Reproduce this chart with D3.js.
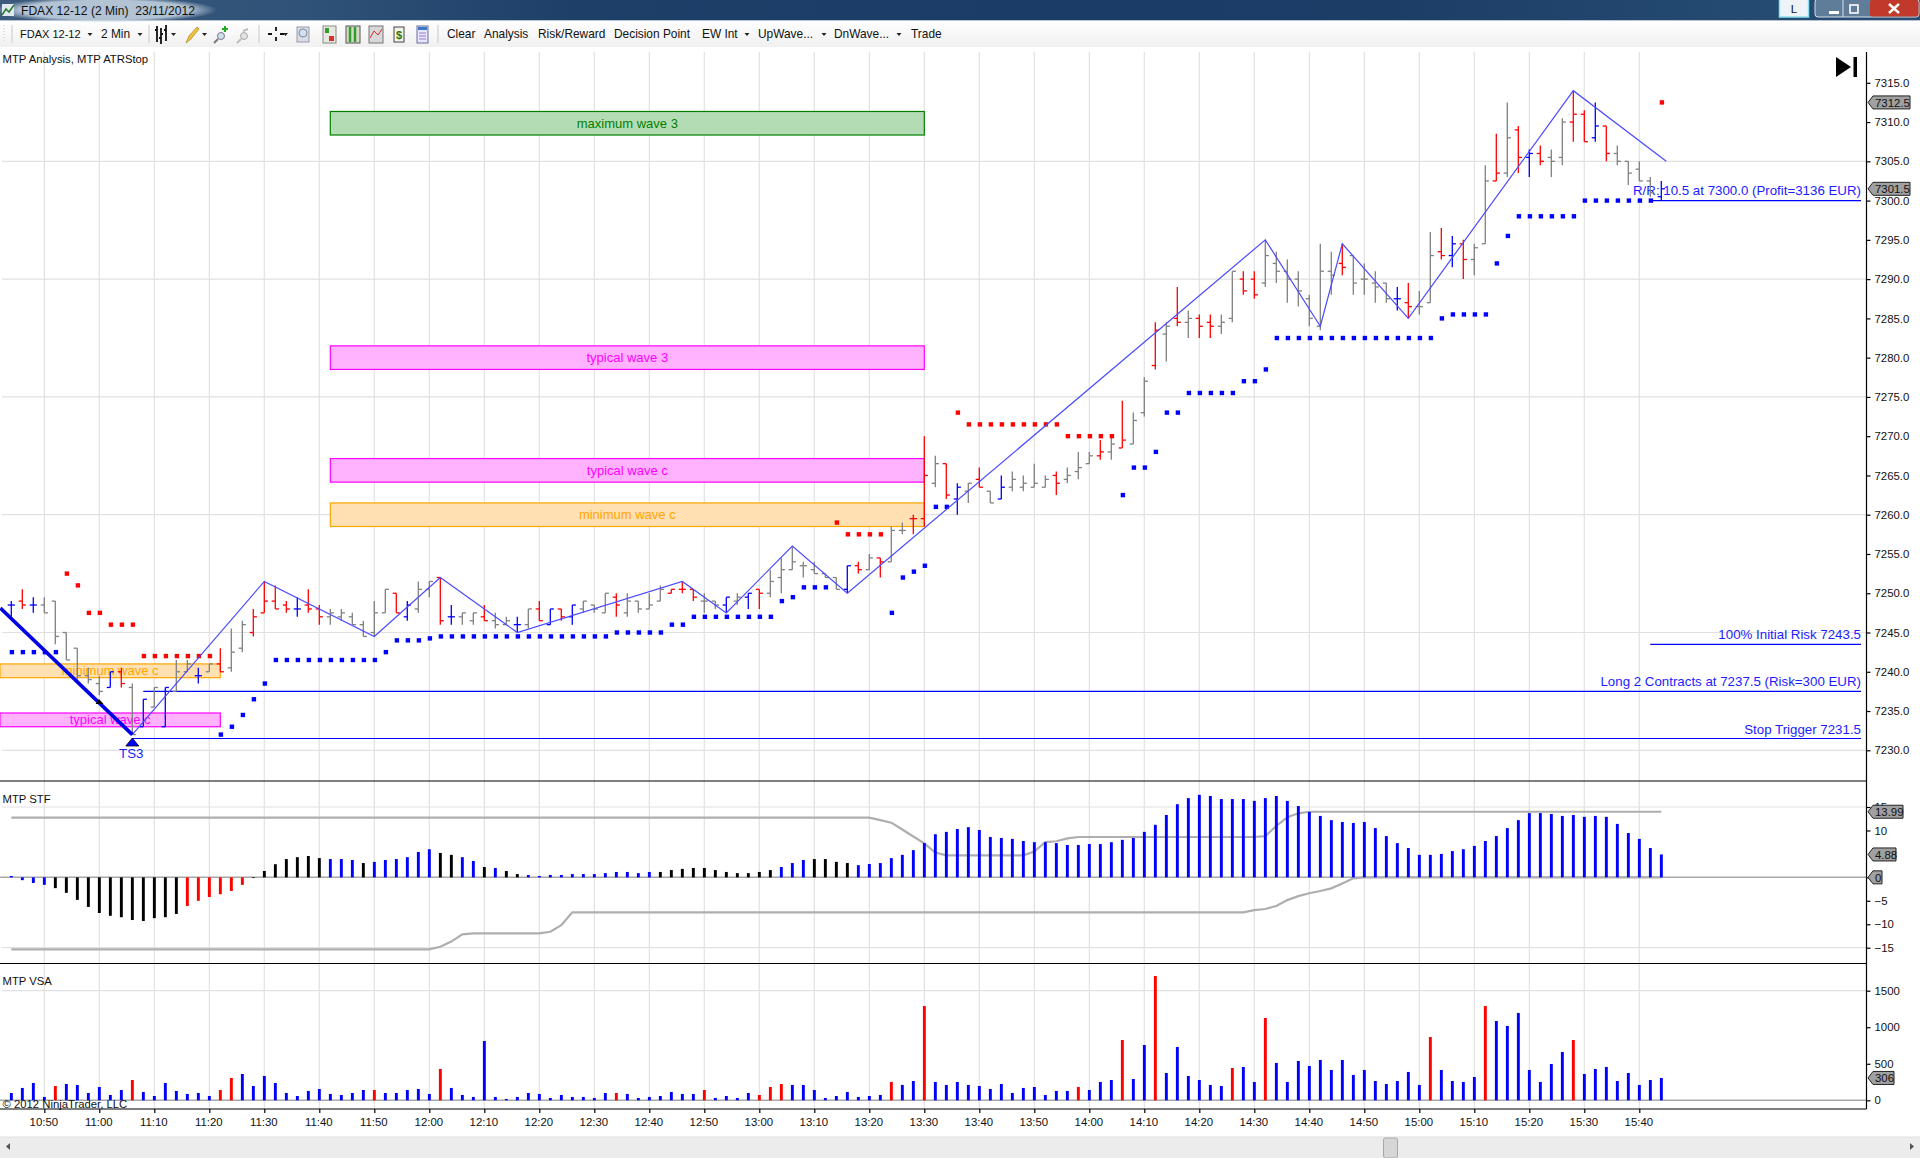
<!DOCTYPE html>
<html lang="en">

<head>
  <meta charset="utf-8">
  <title>FDAX 12-12 (2 Min)</title>
  <style>
    html,
    body {
      margin: 0;
      padding: 0;
      background: #fff;
      overflow: hidden;
    }

    svg {
      display: block;
      font-family: 'Liberation Sans', Arial, sans-serif;
    }

    .axis path {
      display: none;
    }

    .axis line {
      stroke: #000;
      stroke-width: 1.2;
    }

    .axis text {
      fill: #111;
      font-size: 11.4px;
      font-family: 'Liberation Sans', Arial, sans-serif;
    }
  </style>
  <script src="https://d3js.org/d3.v7.min.js" charset="utf-8"></script>
</head>

<body>
  <svg id="chart" width="1920" height="1158"></svg>

  <script type="text/javascript">
    // time axis
    var timeLabels = ["10:50", "11:00", "11:10", "11:20", "11:30", "11:40", "11:50", "12:00", "12:10", "12:20",
      "12:30", "12:40", "12:50", "13:00", "13:10", "13:20", "13:30", "13:40", "13:50", "14:00",
      "14:10", "14:20", "14:30", "14:40", "14:50", "15:00", "15:10", "15:20", "15:30", "15:40"];
    var firstBarTime = "10:44";
    var barMinutes = 2;

    var priceTicks = [7230, 7235, 7240, 7245, 7250, 7255, 7260, 7265, 7270, 7275, 7280, 7285, 7290, 7295, 7300, 7305, 7310, 7315];
    var priceGrid = [7230, 7245, 7260, 7275, 7290, 7305];
    var stfTicks = [-15, -10, -5, 0, 10, 15];
    var stfGrid = [-15, 15];
    var vsaTicks = [0, 500, 1000, 1500];
    var vsaGrid = [1500];

    // price bars, one column per 2 minute bar
    var opens = [
      7248.5, 7249, 7248.5, 7248.5, 7249, 7245, 7243, 7239.5, 7238.5, 7238,
      7240, 7238, 7233, 7235.5, 7233, 7237.5, 7240, 7239.5, 7240, 7241,
      7240.5, 7243, 7245, 7247.5, 7249, 7248.5, 7248, 7248.5, 7248, 7247,
      7247, 7247, 7246, 7245, 7247.5, 7250, 7247, 7248, 7250.5, 7252,
      7247, 7247, 7246.5, 7247, 7246.5, 7246, 7246, 7246, 7248, 7246,
      7248, 7247, 7248, 7248.5, 7247.5, 7249.5, 7247.5, 7249, 7248, 7249,
      7250, 7250.5, 7250.5, 7249, 7249, 7248.5, 7249, 7249.5, 7250.5, 7250,
      7252, 7253, 7253.5, 7253, 7252.5, 7252, 7250.5, 7253.5, 7253, 7254.5,
      7254, 7258, 7259.5, 7259.5, 7264, 7266.5, 7262, 7263, 7264.5, 7263,
      7262, 7263.5, 7263.5, 7263.5, 7263.5, 7265, 7264.5, 7265.5, 7266.5, 7267.5,
      7268, 7268.5, 7269, 7273, 7279, 7283, 7285, 7284.5, 7285, 7284.5,
      7284, 7285, 7290, 7290, 7289.5, 7292, 7291, 7290, 7287.5, 7284,
      7291, 7292, 7293, 7290, 7289.5, 7289.5, 7287.5, 7287, 7286.5, 7287,
      7293.5, 7293, 7294.5, 7292.5, 7294.5, 7302.5, 7303.5, 7309, 7305.5, 7306,
      7305.5, 7305.5, 7310, 7311, 7308, 7309.5, 7306, 7305, 7304, 7302.5,
      7300.5];
    var highs = [
      7249, 7250.5, 7249.5, 7249.5, 7249, 7245, 7243, 7240.5, 7239.5, 7240,
      7240.5, 7238.5, 7236.5, 7238, 7238, 7241.5, 7241.5, 7240.5, 7241, 7243,
      7245.5, 7246.5, 7248, 7251.5, 7251, 7249, 7249.5, 7250.5, 7248.5, 7248,
      7248, 7247.5, 7246.5, 7249, 7250.5, 7250, 7249, 7251.5, 7251.5, 7252,
      7248.5, 7247.5, 7247.5, 7248.5, 7247.5, 7247, 7247, 7248, 7249, 7248,
      7248, 7248.5, 7249, 7248.5, 7250, 7250, 7250, 7249, 7250, 7251,
      7250.5, 7251.5, 7250.5, 7250, 7249, 7249.5, 7250, 7250, 7250.5, 7253,
      7254.5, 7256, 7254, 7254, 7252.5, 7252, 7253.5, 7254, 7255, 7254.5,
      7258.5, 7259, 7260, 7270, 7267.5, 7266.5, 7264, 7264, 7266, 7263,
      7265, 7265.5, 7265, 7266.5, 7265, 7265.5, 7266, 7268, 7268, 7269.5,
      7270, 7274.5, 7273, 7277.5, 7284.5, 7284.5, 7289, 7286, 7285.5, 7285.5,
      7285.5, 7291, 7291, 7291, 7295, 7293.5, 7292.5, 7291, 7288, 7294.5,
      7293.5, 7294.5, 7293, 7292, 7291, 7289.5, 7289, 7289.5, 7288.5, 7296,
      7296.5, 7295.5, 7295, 7294.5, 7304.5, 7308.5, 7312.5, 7309.5, 7306.5, 7307,
      7306.5, 7310.5, 7314, 7311.5, 7312.5, 7309.5, 7307, 7305, 7305, 7303,
      7302.5];
    var lows = [
      7247, 7248, 7247.5, 7247.5, 7243.5, 7241.5, 7239, 7238.5, 7237, 7238,
      7238, 7232, 7233, 7235.5, 7233, 7237.5, 7240, 7238.5, 7240, 7240,
      7240, 7242.5, 7244.5, 7247.5, 7248, 7247.5, 7247, 7247.5, 7246, 7246,
      7246.5, 7246, 7244.5, 7244.5, 7247.5, 7247.5, 7246.5, 7247.5, 7249.5, 7246,
      7246, 7246, 7246, 7246.5, 7245.5, 7246, 7245, 7245.5, 7246.5, 7246,
      7246.5, 7246, 7247.5, 7247.5, 7247.5, 7247, 7247, 7247.5, 7248, 7249,
      7250, 7250, 7249, 7247.5, 7248, 7247.5, 7248.5, 7248, 7248, 7249.5,
      7250, 7253, 7252, 7252.5, 7252, 7250.5, 7250, 7252.5, 7253, 7252,
      7254, 7257.5, 7257.5, 7258.5, 7263.5, 7262, 7260, 7261.5, 7263.5, 7261.5,
      7262, 7263, 7263, 7263.5, 7263.5, 7262.5, 7264, 7264.5, 7266.5, 7267,
      7267, 7268.5, 7269, 7272.5, 7278.5, 7279.5, 7284, 7282.5, 7282.5, 7282.5,
      7283, 7284.5, 7288, 7287.5, 7289, 7289.5, 7287, 7286.5, 7284, 7283.5,
      7288, 7290.5, 7288, 7288, 7287, 7287, 7286, 7285, 7285.5, 7287,
      7292.5, 7291.5, 7290, 7290.5, 7294.5, 7302.5, 7303, 7303.5, 7303, 7304.5,
      7303, 7304.5, 7307.5, 7307.5, 7307.5, 7305, 7304.5, 7302, 7302.5, 7300.5,
      7300];
    var closes = [
      7248.5, 7248.5, 7248.5, 7247.5, 7244.5, 7241.5, 7239.5, 7239, 7237.5, 7240,
      7238.5, 7232, 7236.5, 7238, 7238, 7240, 7241, 7239.5, 7241, 7240,
      7242.5, 7246, 7247, 7249, 7248, 7248, 7248, 7248, 7247, 7247.5,
      7247.5, 7246, 7244.5, 7247.5, 7250.5, 7247.5, 7248.5, 7250.5, 7251.5, 7246.5,
      7247, 7247.5, 7247.5, 7246.5, 7246, 7246.5, 7246, 7248, 7246.5, 7248,
      7247, 7248.5, 7249, 7248, 7250, 7248.5, 7249, 7248, 7248.5, 7250.5,
      7250.5, 7250.5, 7249.5, 7249, 7248.5, 7249.5, 7249.5, 7250, 7250, 7251.5,
      7253, 7254, 7253.5, 7252.5, 7252, 7250.5, 7253.5, 7253, 7254.5, 7254,
      7258, 7258, 7259.5, 7265, 7266.5, 7262.5, 7263.5, 7264, 7263.5, 7261.5,
      7263.5, 7264.5, 7264, 7264, 7264.5, 7264, 7265, 7266, 7267.5, 7268,
      7269, 7269.5, 7272, 7277, 7283.5, 7284, 7284.5, 7285, 7284, 7284,
      7284.5, 7291, 7288.5, 7288, 7293, 7291, 7290, 7288.5, 7285, 7291,
      7290.5, 7291.5, 7289.5, 7290, 7289, 7287.5, 7287.5, 7286.5, 7286.5, 7293,
      7293, 7294.5, 7292.5, 7294, 7302.5, 7303.5, 7308, 7305.5, 7306, 7305,
      7305, 7310, 7311, 7307.5, 7309.5, 7306, 7305, 7303.5, 7302.5, 7301,
      7301.5];
    var barColors = (
      "brbggggggb" + "rgbgbggbgr" + "ggrrrrbrrg" + "gggggrbggr" + "bggrggbgrb" +
      "rbgggrgggg" + "rrrggbgbrg" + "ggggggbrgr" + "ggrrgrbgrg" + "bggggrgggr" +
      "grggrgrgrr" + "ggrrgggggg" + "grggggbrgg" + "rbrggrgrbr" + "ggrrbrgggg" + "b").split("");

    // MTP ATRStop dots
    var stopPrices = [
      7242.5, 7242.5, 7242.5, 7242.5, 7242.5, 7252.5, 7251, 7247.5, 7247.5, 7246,
      7246, 7246, 7242, 7242, 7242, 7242, 7242, 7242, 7242, 7232,
      7233, 7234.5, 7236.5, 7238.5, 7241.5, 7241.5, 7241.5, 7241.5, 7241.5, 7241.5,
      7241.5, 7241.5, 7241.5, 7241.5, 7242.5, 7244, 7244, 7244, 7244.25, 7244.5,
      7244.5, 7244.5, 7244.5, 7244.5, 7244.5, 7244.5, 7244.5, 7244.5, 7244.5, 7244.5,
      7244.5, 7244.5, 7244.5, 7244.5, 7244.5, 7245, 7245, 7245, 7245, 7245,
      7246, 7246, 7247, 7247, 7247, 7247, 7247, 7247, 7247, 7247,
      7249, 7249.5, 7250.75, 7250.75, 7250.75, 7259, 7257.5, 7257.5, 7257.5, 7257.5,
      7247.5, 7252, 7252.75, 7253.5, 7261, 7261, 7273, 7271.5, 7271.5, 7271.5,
      7271.5, 7271.5, 7271.5, 7271.5, 7271.5, 7271.5, 7270, 7270, 7270, 7270,
      7270, 7262.5, 7266, 7266, 7268, 7273, 7273, 7275.5, 7275.5, 7275.5,
      7275.5, 7275.5, 7277, 7277, 7278.5, 7282.5, 7282.5, 7282.5, 7282.5, 7282.5,
      7282.5, 7282.5, 7282.5, 7282.5, 7282.5, 7282.5, 7282.5, 7282.5, 7282.5, 7282.5,
      7285, 7285.5, 7285.5, 7285.5, 7285.5, 7292, 7295.5, 7298, 7298, 7298,
      7298, 7298, 7298, 7300, 7300, 7300, 7300, 7300, 7300, 7300,
      7312.5];
    var stopRedBars = [5, 6, 7, 8, 9, 10, 11, 12, 13, 14, 15, 16, 17, 18, 75, 76, 77, 78, 79,
      86, 87, 88, 89, 90, 91, 92, 93, 94, 95, 96, 97, 98, 99, 100, 150];

    // wave count lines: bar number, price
    var thickWaveBars = [-1, 11];
    var thickWavePrices = [7248.1, 7232];
    var waveBars = [11, 23, 33, 39, 46, 61, 65, 71, 76, 114, 119, 121, 127, 142, 150.45];
    var wavePrices = [7232, 7251.5, 7244.5, 7252, 7245, 7251.5, 7247.5, 7256, 7250, 7295, 7284, 7294.5, 7285, 7314, 7305];

    // projection boxes
    var boxLabels = ["maximum wave 3", "typical wave 3", "typical wave c", "minimum wave c", "minimum wave c", "typical wave c"];
    var boxKinds = ["green", "magenta", "magenta", "orange", "orange", "magenta"];
    var boxFirstBars = [29, 29, 29, 29, -1.03, -1.03];
    var boxLastBars = [83, 83, 83, 83, 19, 19];
    var boxTops = [7311.35, 7281.5, 7267.15, 7261.5, 7241, 7234.75];
    var boxBottoms = [7308.35, 7278.5, 7264.15, 7258.5, 7239.25, 7233];

    // trade levels
    var levelLabels = ["R/R: 10.5 at 7300.0 (Profit=3136 EUR)", "100% Initial Risk 7243.5",
      "Long 2 Contracts at 7237.5 (Risk=300 EUR)", "Stop Trigger 7231.5"];
    var levelPrices = [7300, 7243.5, 7237.5, 7231.5];
    var levelFirstBars = [149.2, 149, 12, 11];

    // MTP STF
    var stfValues = [
      0.3, -0.6, -1.2, -1.6, -2.3, -3.3, -4.8, -6.3, -7.6, -8.2,
      -8.5, -9.1, -9.3, -8.7, -8.5, -7.8, -6.1, -5, -4.2, -3.6,
      -2.9, -1.6, -0.15, 1.35, 2.8, 3.9, 4.3, 4.55, 4.1, 3.9,
      3.9, 3.7, 3.05, 3.3, 3.7, 3.9, 4.3, 5.4, 6, 5.2,
      4.8, 4.3, 3.5, 2.2, 2, 1.35, 0.7, 0.5, 0.3, 0.5,
      0.5, 0.7, 0.7, 0.7, 0.9, 1.15, 1.15, 0.9, 1.15, 1.15,
      1.55, 1.8, 2, 2, 1.55, 1.15, 0.9, 0.9, 1.15, 1.55,
      2.2, 3.05, 3.7, 3.9, 3.9, 3.3, 3.05, 2.6, 2.85, 3.05,
      4.1, 4.8, 5.8, 7.3, 9.2, 9.7, 10.3, 10.7, 10.1, 8.6,
      8.4, 8.2, 7.75, 7.5, 7.5, 7.3, 6.9, 6.9, 7.1, 7.1,
      7.5, 8, 8.4, 9.7, 11.2, 13.3, 15.6, 16.9, 17.6, 17.35,
      16.7, 16.7, 16.7, 16.3, 16.9, 17.35, 16.3, 15.2, 13.95, 13.1,
      12.2, 11.8, 11.6, 11.8, 10.5, 8.8, 7.3, 6.25, 4.8, 4.8,
      5, 5.6, 6, 6.7, 7.75, 8.8, 10.5, 12.2, 13.7, 13.7,
      13.5, 13.1, 13.3, 12.9, 13.1, 12.9, 11.4, 9.45, 8.2, 6.25,
      4.88];
    var stfRedBars = [16, 17, 18, 19, 20, 21];
    var stfBlackBars = [4, 5, 6, 7, 8, 9, 10, 11, 12, 13, 14, 15, 22, 23, 24, 25, 26, 27, 28, 32, 39, 40, 43, 45, 46,
      59, 60, 61, 62, 63, 64, 65, 66, 67, 68, 69, 73, 74, 75, 76];
    var stfUpperBars = [0, 78, 79, 80, 81, 82, 83, 84, 85, 92, 93, 94, 95, 96, 97, 113, 114, 115, 116, 117, 118, 150];
    var stfUpperValues = [12.73, 12.73, 12.2, 11.66, 10.2, 8.7, 7.25, 5.3, 4.7, 4.7, 5.5, 7.5, 7.7, 8.3, 8.6, 8.6, 8.8, 10.95, 12.8, 13.65, 13.99, 13.99];
    var stfLowerBars = [0, 38, 39, 40, 41, 42, 48, 49, 50, 51, 112, 113, 114, 115, 116, 117, 118, 119, 120, 121, 122, 123, 150];
    var stfLowerValues = [-15.36, -15.36, -14.8, -13.7, -12.16, -11.95, -11.95, -11.6, -10.2, -7.47, -7.47, -7, -6.75, -6.1, -4.85, -4, -3.4, -2.9, -2.35, -1.3, -0.2, 0, 0];

    // MTP VSA
    var vsaValues = [
      100, 169, 237, 46, 196, 223, 210, 100, 182, 73,
      141, 278, 114, 59, 237, 128, 87, 100, 59, 141,
      306, 360, 196, 333, 237, 100, 59, 128, 155, 87,
      73, 100, 141, 141, 100, 100, 141, 155, 87, 429,
      169, 73, 46, 812, 46, 18, 46, 100, 87, 32,
      73, 46, 46, 32, 100, 100, 87, 32, 46, 59,
      114, 87, 87, 141, 32, 59, 32, 100, 73, 182,
      223, 210, 210, 141, 32, 59, 114, 46, 59, 73,
      251, 210, 264, 1290, 251, 210, 251, 210, 196, 155,
      223, 100, 169, 182, 73, 128, 128, 182, 141, 251,
      278, 825, 292, 757, 1701, 374, 730, 333, 278, 210,
      196, 442, 456, 251, 1126, 511, 251, 538, 470, 552,
      415, 552, 347, 415, 264, 223, 264, 388, 210, 866,
      415, 264, 251, 319, 1290, 1085, 1017, 1195, 415, 251,
      497, 661, 825, 360, 429, 456, 264, 374, 210, 278,
      306];
    var vsaRedBars = [4, 11, 19, 20, 33, 39, 55, 63, 68, 69, 70, 80, 83, 97, 101, 104, 111, 114, 129, 134, 142];

    // window chrome text
    var titleText = "FDAX 12-12 (2 Min)  23/11/2012";
    var menuLabels = ["FDAX 12-12", "2 Min", "Clear", "Analysis", "Risk/Reward", "Decision Point", "EW Int", "UpWave...", "DnWave...", "Trade"];
    var menuX = [20, 101, 447, 484, 538, 614, 702, 758, 834, 911];
    var menuArrowX = [90, 140, 747, 824, 899];
    var toolSeparatorX = [12, 149, 259, 438];

    var priceTagValues = ["7312.5", "7301.5"];
    var stfTagValues = ["13.99", "4.88", "0"];
    var vsaTagValues = ["306"];

    var colors = { g: "#808080", r: "#ff0000", b: "#0000ff" };
    var boxStyles = {
      green: { stroke: "#008000", fill: "#b4dcb4", text: "#008000" },
      magenta: { stroke: "#ff00ff", fill: "#ffb3ff", text: "#ff00ff" },
      orange: { stroke: "#ffa500", fill: "#ffe0b2", text: "#ffa500" }
    };

    var axisX = 1866.5;
    var svg = d3.select("#chart");

    function minutes(s) {
      var p = s.split(":");
      return +p[0] * 60 + +p[1];
    }

    var x = d3.scaleLinear()
      .domain([minutes("10:50"), minutes("15:40")])
      .range([44.3, 1639.3]);

    function barX(i) {
      return x(minutes(firstBarTime) + i * barMinutes);
    }

    var yPrice = d3.scaleLinear().domain([7230, 7315]).range([750.3, 82.8]);
    var yStf = d3.scaleLinear().domain([-15, 15]).range([947.7, 807]);
    var yVsa = d3.scaleLinear().domain([0, 1500]).range([1100.3, 990.7]);

    drawChrome();

    // grid
    var gridLayer = svg.append("g").attr("stroke", "#e1e1e1").attr("stroke-width", 1.2);
    gridLayer.selectAll(".vgrid").data(timeLabels).join("line")
      .attr("x1", function (d) { return x(minutes(d)); })
      .attr("x2", function (d) { return x(minutes(d)); })
      .attr("y1", 52).attr("y2", 1109);

    function hGrid(values, scale) {
      gridLayer.selectAll(null).data(values).join("line")
        .attr("x1", 2).attr("x2", axisX)
        .attr("y1", function (d) { return scale(d); })
        .attr("y2", function (d) { return scale(d); });
    }
    hGrid(priceGrid, yPrice);
    hGrid(stfGrid, yStf);
    hGrid(vsaGrid, yVsa);

    // projection boxes
    var boxLayer = svg.append("g");
    boxLabels.forEach(function (label, k) {
      var st = boxStyles[boxKinds[k]];
      var x0 = barX(boxFirstBars[k]), x1 = barX(boxLastBars[k]);
      boxLayer.append("rect")
        .attr("x", x0).attr("width", x1 - x0)
        .attr("y", yPrice(boxTops[k]))
        .attr("height", yPrice(boxBottoms[k]) - yPrice(boxTops[k]))
        .attr("fill", st.fill).attr("stroke", st.stroke).attr("stroke-width", 1.2);
      boxLayer.append("text")
        .attr("x", (x0 + x1) / 2)
        .attr("y", (yPrice(boxTops[k]) + yPrice(boxBottoms[k])) / 2 + 4.5)
        .attr("text-anchor", "middle")
        .attr("fill", st.text).attr("font-size", 13)
        .text(label);
    });

    // trade levels
    var levelLayer = svg.append("g");
    levelLabels.forEach(function (label, k) {
      levelLayer.append("line")
        .attr("x1", barX(levelFirstBars[k])).attr("x2", 1861)
        .attr("y1", yPrice(levelPrices[k])).attr("y2", yPrice(levelPrices[k]))
        .attr("stroke", "#0000ff").attr("stroke-width", 1.2);
      levelLayer.append("text")
        .attr("x", 1861).attr("y", yPrice(levelPrices[k]) - (k == 0 ? 6 : 5))
        .attr("text-anchor", "end")
        .attr("fill", "#1c1cff").attr("font-size", 13.3)
        .text(label);
    });

    // price bars
    var bars = svg.append("g").attr("stroke-width", 1.3);
    opens.forEach(function (o, i) {
      var cx = barX(i);
      var g = bars.append("g").attr("stroke", colors[barColors[i]]);
      g.append("line").attr("x1", cx).attr("x2", cx).attr("y1", yPrice(highs[i])).attr("y2", yPrice(lows[i]));
      g.append("line").attr("x1", cx - 3.6).attr("x2", cx).attr("y1", yPrice(o)).attr("y2", yPrice(o));
      g.append("line").attr("x1", cx).attr("x2", cx + 3.6).attr("y1", yPrice(closes[i])).attr("y2", yPrice(closes[i]));
    });

    // ATR stop dots
    svg.append("g").selectAll("rect").data(stopPrices).join("rect")
      .attr("x", function (d, i) { return barX(i) - 2.2 + 0.6; })
      .attr("y", function (d) { return yPrice(d) - 2.2; })
      .attr("width", 4.4).attr("height", 4.4)
      .attr("fill", function (d, i) { return stopRedBars.indexOf(i) >= 0 ? "#ff0000" : "#0000ff"; });

    // wave lines
    var waveLine = d3.line()
      .x(function (d) { return barX(d[0]); })
      .y(function (d) { return yPrice(d[1]); });

    svg.append("path")
      .attr("d", waveLine(d3.zip(waveBars, wavePrices)))
      .attr("fill", "none").attr("stroke", "#4a4aff").attr("stroke-width", 1.2);
    svg.append("path")
      .attr("d", waveLine(d3.zip(thickWaveBars, thickWavePrices)))
      .attr("fill", "none").attr("stroke", "#0000e6").attr("stroke-width", 3.6);

    // small wave markers
    var tsX = barX(11);
    svg.append("path")
      .attr("d", d3.line()([[tsX, 738], [tsX + 6.5, 746], [tsX - 6.5, 746]]) + "Z")
      .attr("fill", "#0000ff").attr("stroke", "#000").attr("stroke-width", 0.8);
    svg.append("text").attr("x", tsX - 1).attr("y", 757.5)
      .attr("text-anchor", "middle").attr("fill", "#1c1cff").attr("font-size", 13.3)
      .text("TS3");
    svg.append("path")
      .attr("d", d3.line()([[99, 699], [103.5, 704], [95.5, 704]]) + "Z")
      .attr("fill", "#000");

    // jump to latest bar button
    svg.append("path").attr("d", "M1836,57L1851,67L1836,77Z").attr("fill", "#000");
    svg.append("rect").attr("x", 1853.5).attr("y", 57).attr("width", 3.5).attr("height", 20).attr("fill", "#000");

    // STF panel
    svg.append("line").attr("x1", 0).attr("x2", axisX).attr("y1", yStf(0)).attr("y2", yStf(0))
      .attr("stroke", "#a8a8a8").attr("stroke-width", 1.5);
    var stfLine = d3.line()
      .x(function (d) { return barX(d[0]); })
      .y(function (d) { return yStf(d[1]); });
    [[stfUpperBars, stfUpperValues], [stfLowerBars, stfLowerValues]].forEach(function (s) {
      svg.append("path")
        .attr("d", stfLine(d3.zip(s[0], s[1])))
        .attr("fill", "none").attr("stroke", "#aeaeae").attr("stroke-width", 2.2);
    });
    svg.append("g").selectAll("rect").data(stfValues).join("rect")
      .attr("x", function (d, i) { return barX(i) - 1.4; })
      .attr("width", 2.9)
      .attr("y", function (d) { return Math.min(yStf(d), yStf(0)); })
      .attr("height", function (d) { return Math.abs(yStf(d) - yStf(0)); })
      .attr("fill", function (d, i) {
        if (stfRedBars.indexOf(i) >= 0) return "#ff0000";
        if (stfBlackBars.indexOf(i) >= 0) return "#000000";
        return "#0000ff";
      });

    // VSA panel
    svg.append("line").attr("x1", 0).attr("x2", axisX).attr("y1", yVsa(0)).attr("y2", yVsa(0))
      .attr("stroke", "#a8a8a8").attr("stroke-width", 1.5);
    svg.append("g").selectAll("rect").data(vsaValues).join("rect")
      .attr("x", function (d, i) { return barX(i) - 1.4; })
      .attr("width", 2.9)
      .attr("y", function (d) { return yVsa(d); })
      .attr("height", function (d) { return yVsa(0) - yVsa(d); })
      .attr("fill", function (d, i) { return vsaRedBars.indexOf(i) >= 0 ? "#ff0000" : "#0000ff"; });

    // panel labels
    function panelText(px, py, s) {
      svg.append("text").attr("x", px).attr("y", py).attr("fill", "#111").attr("font-size", 11.3).text(s);
    }
    panelText(2.5, 63, "MTP Analysis, MTP ATRStop");
    panelText(2.5, 803, "MTP STF");
    panelText(2.5, 985, "MTP VSA");
    panelText(2.5, 1108, "\u00A9 2012 NinjaTrader, LLC");

    // frames
    [781, 963.5, 1109].forEach(function (py) {
      svg.append("line").attr("x1", 0).attr("x2", axisX).attr("y1", py).attr("y2", py)
        .attr("stroke", "#000").attr("stroke-width", 1.2);
    });
    svg.append("line").attr("x1", axisX).attr("x2", axisX).attr("y1", 52).attr("y2", 1109)
      .attr("stroke", "#000").attr("stroke-width", 1.2);

    // axes
    svg.append("g").attr("class", "axis").attr("transform", "translate(" + axisX + ",0)")
      .call(d3.axisRight(yPrice).tickValues(priceTicks).tickSize(4).tickPadding(4).tickFormat(d3.format(".1f")));
    svg.append("g").attr("class", "axis").attr("transform", "translate(" + axisX + ",0)")
      .call(d3.axisRight(yStf).tickValues(stfTicks).tickSize(4).tickPadding(4).tickFormat(d3.format("d")));
    svg.append("g").attr("class", "axis").attr("transform", "translate(" + axisX + ",0)")
      .call(d3.axisRight(yVsa).tickValues(vsaTicks).tickSize(4).tickPadding(4).tickFormat(d3.format("d")));
    var timeAxis = svg.append("g").attr("class", "axis").attr("transform", "translate(0,1109)")
      .call(d3.axisBottom(x)
        .tickValues(timeLabels.map(minutes))
        .tickSize(4).tickPadding(5)
        .tickFormat(function (d, i) { return timeLabels[i]; }));
    timeAxis.selectAll("text").attr("dx", -1);

    // last value tags
    function drawTag(py, label, w) {
      var x0 = 1868;
      svg.append("path")
        .attr("d", "M" + x0 + "," + py + "L" + (x0 + 5) + "," + (py - 6.5) + "H" + (x0 + w) + "V" + (py + 6.5) + "H" + (x0 + 5) + "Z")
        .attr("fill", "#a0a0a0").attr("stroke", "#222").attr("stroke-width", 1);
      svg.append("text").attr("x", x0 + 7).attr("y", py + 4.2)
        .attr("fill", "#111").attr("font-size", 11.4).text(label);
    }
    priceTagValues.forEach(function (v) { drawTag(yPrice(+v), v, 42); });
    drawTag(yStf(+stfTagValues[0]), stfTagValues[0], 35);
    drawTag(yStf(+stfTagValues[1]), stfTagValues[1], 28);
    drawTag(yStf(+stfTagValues[2]), stfTagValues[2], 14);
    drawTag(yVsa(+vsaTagValues[0]), vsaTagValues[0], 26);

    function drawChrome() {
      var defs = svg.append("defs");
      var tb = defs.append("linearGradient").attr("id", "titlebg");
      [[0, "#3c5a7c"], [0.16, "#2f5278"], [0.3, "#1d3f68"], [0.55, "#1b3c66"], [0.72, "#1c3d66"], [0.9, "#244a72"], [1, "#2b4d73"]]
        .forEach(function (s) { tb.append("stop").attr("offset", s[0]).attr("stop-color", s[1]); });
      var tool = defs.append("linearGradient").attr("id", "toolbg").attr("x2", 0).attr("y2", 1);
      tool.append("stop").attr("offset", 0).attr("stop-color", "#ffffff");
      tool.append("stop").attr("offset", 1).attr("stop-color", "#f0f0f0");
      var glow = defs.append("radialGradient").attr("id", "titleglow");
      glow.append("stop").attr("offset", 0.75).attr("stop-color", "#c8d6e4").attr("stop-opacity", 0.85);
      glow.append("stop").attr("offset", 1).attr("stop-color", "#c8d6e4").attr("stop-opacity", 0);

      svg.append("rect").attr("width", 1920).attr("height", 20).attr("fill", "url(#titlebg)");
      svg.append("rect").attr("y", 20).attr("width", 1920).attr("height", 1.2).attr("fill", "#b9c4d0");
      svg.append("rect").attr("y", 21).attr("width", 1920).attr("height", 26).attr("fill", "url(#toolbg)");
      svg.append("ellipse").attr("cx", 105).attr("cy", 10).attr("rx", 112).attr("ry", 13).attr("fill", "url(#titleglow)");

      // title icon
      svg.append("rect").attr("x", 2).attr("y", 4).attr("width", 12).attr("height", 12).attr("fill", "#dfe8f0");
      svg.append("path").attr("d", "M2,15L6,9L9,12L14,5").attr("fill", "none").attr("stroke", "#2a7a2a").attr("stroke-width", 1.5);
      svg.append("text").attr("x", 21).attr("y", 14.5).attr("fill", "#111").attr("font-size", 12.1)
        .style("white-space", "pre").text(titleText);

      // L button and window buttons
      svg.append("rect").attr("x", 1779.5).attr("y", -1).attr("width", 29).attr("height", 18)
        .attr("fill", "#eef3f7").attr("stroke", "#8fe0f0").attr("stroke-width", 1.5);
      svg.append("text").attr("x", 1794).attr("y", 13).attr("text-anchor", "middle").attr("font-size", 11.5).attr("fill", "#111").text("L");
      svg.append("rect").attr("x", 1815).attr("y", -1).attr("width", 104).attr("height", 18).attr("rx", 3)
        .attr("fill", "#5f7d99").attr("stroke", "#d8e0e8");
      svg.append("rect").attr("x", 1870).attr("y", 0).attr("width", 48.5).attr("height", 16.5).attr("rx", 2).attr("fill", "#c0392b");
      svg.append("line").attr("x1", 1843).attr("x2", 1843).attr("y1", 0).attr("y2", 17).attr("stroke", "#d8e0e8");
      svg.append("rect").attr("x", 1829).attr("y", 11).attr("width", 10).attr("height", 3).attr("fill", "#fff");
      svg.append("rect").attr("x", 1850).attr("y", 5).attr("width", 8).attr("height", 8).attr("fill", "none").attr("stroke", "#fff").attr("stroke-width", 1.6);
      svg.append("path").attr("d", "M1889,4L1899,13M1899,4L1889,13").attr("stroke", "#fff").attr("stroke-width", 2.4);

      // toolbar
      var toolbar = svg.append("g");
      toolbar.selectAll("text").data(menuLabels).join("text")
        .attr("x", function (d, i) { return menuX[i]; })
        .attr("y", 38.2)
        .attr("fill", "#111")
        .attr("font-size", function (d, i) { return i == 0 ? 11 : 11.9; })
        .text(function (d) { return d; });
      menuArrowX.forEach(function (ax) {
        toolbar.append("path").attr("d", "M" + (ax - 2.5) + ",33L" + (ax + 2.5) + ",33L" + ax + ",36Z").attr("fill", "#222");
      });
      toolSeparatorX.forEach(function (sx) {
        toolbar.append("line").attr("x1", sx).attr("x2", sx).attr("y1", 25).attr("y2", 43).attr("stroke", "#c8c8c8");
      });
      toolbar.append("line").attr("x1", 4).attr("x2", 4).attr("y1", 25).attr("y2", 43).attr("stroke", "#c8c8c8").attr("stroke-dasharray", "1,2");

      // toolbar icons
      toolbar.append("path").attr("d", "M157,26V42M161,28V44M166,25V41M155,30H157M161,34H163M164,30H166M159,38H161")
        .attr("stroke", "#111").attr("stroke-width", 1.8).attr("fill", "none");
      toolbar.append("path").attr("d", "M171,33L176,33L173.5,36Z").attr("fill", "#222");
      toolbar.append("path").attr("d", "M186,43L189,36L197,27L199,29L191,39Z").attr("fill", "#f2c23e").attr("stroke", "#a67c1a").attr("stroke-width", 0.7);
      toolbar.append("path").attr("d", "M202,33L207,33L204.5,36Z").attr("fill", "#222");
      toolbar.append("circle").attr("cx", 221).attr("cy", 36).attr("r", 3.5).attr("fill", "#cfe0ee").attr("stroke", "#778");
      toolbar.append("line").attr("x1", 218).attr("x2", 214).attr("y1", 39).attr("y2", 43).attr("stroke", "#777").attr("stroke-width", 2);
      toolbar.append("path").attr("d", "M225,26V32M222,29H228").attr("stroke", "#1faa1f").attr("stroke-width", 2);
      toolbar.append("circle").attr("cx", 244).attr("cy", 36).attr("r", 3.5).attr("fill", "#e2e2e2").attr("stroke", "#aaa");
      toolbar.append("line").attr("x1", 241).attr("x2", 237).attr("y1", 39).attr("y2", 43).attr("stroke", "#bbb").attr("stroke-width", 2);
      toolbar.append("path").attr("d", "M248,29L243,31").attr("stroke", "#bbb").attr("stroke-width", 2);
      toolbar.append("path").attr("d", "M276,27V31M276,37V41M268,34H272M280,34H284").attr("stroke", "#111").attr("stroke-width", 1.8);
      toolbar.append("path").attr("d", "M283,33L288,33L285.5,36Z").attr("fill", "#222");
      toolbar.append("rect").attr("x", 297).attr("y", 27).attr("width", 12).attr("height", 15).attr("fill", "#d8dce4").attr("stroke", "#99a");
      toolbar.append("circle").attr("cx", 303).attr("cy", 33).attr("r", 4).attr("fill", "#cfe0ee").attr("stroke", "#889");
      toolbar.append("rect").attr("x", 323).attr("y", 26).attr("width", 13).attr("height", 17).attr("fill", "#e8e8e0").attr("stroke", "#888");
      toolbar.append("rect").attr("x", 325).attr("y", 28).attr("width", 4).attr("height", 5).attr("fill", "#2f9e2f");
      toolbar.append("rect").attr("x", 329).attr("y", 36).attr("width", 5).attr("height", 5).attr("fill", "#d83030");
      toolbar.append("rect").attr("x", 346).attr("y", 26).attr("width", 14).attr("height", 17).attr("fill", "#d8d8c8").attr("stroke", "#555");
      toolbar.append("path").attr("d", "M350,27V42M355,27V42").attr("stroke", "#2f9e2f").attr("stroke-width", 2.5);
      toolbar.append("rect").attr("x", 369).attr("y", 26).attr("width", 14).attr("height", 17).attr("fill", "#d8d8d8").attr("stroke", "#777");
      toolbar.append("path").attr("d", "M370,38L374,31L378,35L382,29").attr("fill", "none").attr("stroke", "#d83030");
      toolbar.append("rect").attr("x", 394).attr("y", 27).attr("width", 10).attr("height", 15).attr("fill", "#f4f4e8").attr("stroke", "#444");
      toolbar.append("text").attr("x", 399).attr("y", 39).attr("text-anchor", "middle").attr("font-size", 11).attr("font-weight", "bold").attr("fill", "#1a7a1a").text("$");
      toolbar.append("rect").attr("x", 417).attr("y", 26).attr("width", 11).attr("height", 17).attr("fill", "#e6e6ff").attr("stroke", "#6a6a9a");
      toolbar.append("rect").attr("x", 418).attr("y", 27).attr("width", 9).attr("height", 3).attr("fill", "#3a78c8");
      toolbar.append("path").attr("d", "M419,33H426M419,36H426M419,39H426").attr("stroke", "#9a7ac8");

      // scroll bar
      svg.append("rect").attr("y", 1137).attr("width", 1920).attr("height", 21).attr("fill", "#ececec");
      svg.append("rect").attr("y", 1136.5).attr("width", 1920).attr("height", 1).attr("fill", "#e2e2e2");
      svg.append("path").attr("d", "M10,1143V1150L6,1146.5Z").attr("fill", "#555");
      svg.append("path").attr("d", "M1910,1143V1150L1914,1146.5Z").attr("fill", "#555");
      svg.append("rect").attr("x", 1383.5).attr("y", 1138).attr("width", 14).attr("height", 20).attr("rx", 2)
        .attr("fill", "#d6d6d6").attr("stroke", "#a8a8a8");
    }
  </script>
</body>

</html>
